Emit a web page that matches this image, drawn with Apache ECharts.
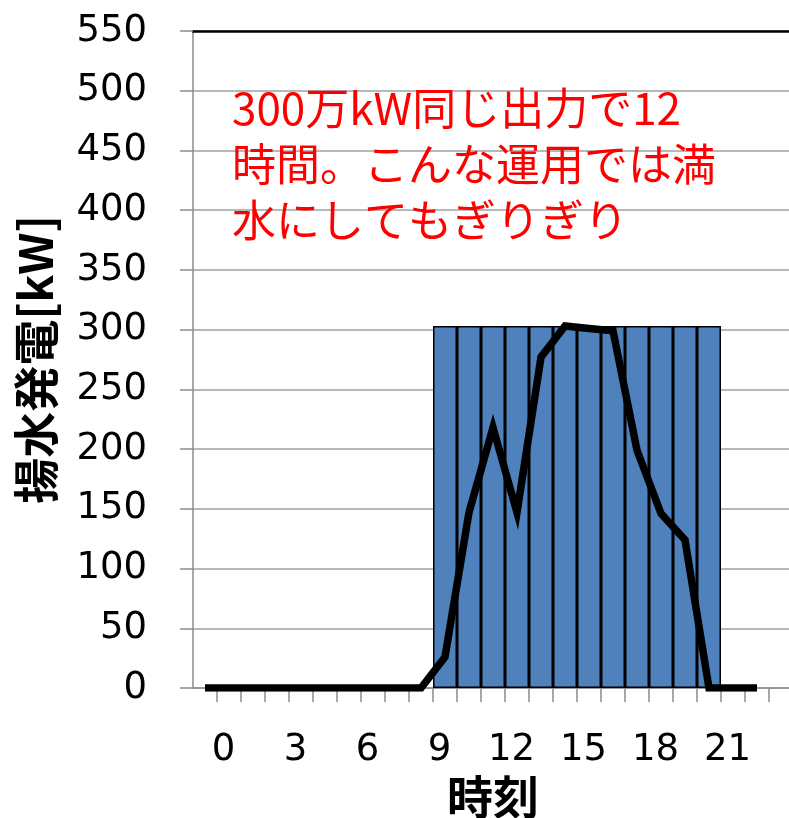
<!DOCTYPE html>
<html>
<head>
<meta charset="utf-8">
<script src="https://cdn.jsdelivr.net/npm/echarts@6/dist/echarts.min.js"></script>
<style>
  html, body { margin: 0; padding: 0; background: #fff; }
  #chart { width: 789px; height: 818px; }
</style>
</head>
<body>
<div id="chart"></div>
<script>
// Hour categories (the leading slot is an unlabeled lead-in before 0時)
const hours = ['', '0', '1', '2', '3', '4', '5', '6', '7', '8', '9', '10', '11',
  '12', '13', '14', '15', '16', '17', '18', '19', '20', '21', '22', '23'];

// Flat 12-hour pumped-storage output block [kW]
const flatOutput = ['-', '-', '-', '-', '-', '-', '-', '-', '-', '-',
  303, 303, 303, 303, 303, 303, 303, 303, 303, 303, 303, 303,
  '-', '-', '-'];

// Actual pumped-storage generation profile [kW]
const actualOutput = [0, 0, 0, 0, 0, 0, 0, 0, 0, 0,
  26, 147, 218, 147, 277, 303, 301, 299, 199, 146, 124, 0,
  0, 0, null];

const yTicks = { min: 0, max: 550, step: 50 };

const FONT = '"Noto Sans CJK JP", "Noto Sans", sans-serif';
const NUM_FONT = '"DejaVu Sans", sans-serif';
const chart = echarts.init(document.getElementById('chart'), null, { renderer: 'canvas' });

chart.setOption({
  animation: false,
  backgroundColor: '#ffffff',
  grid: {
    left: 193, top: 31, width: 600, bottom: 130,
    containLabel: false,
    outerBoundsMode: 'none'
  },
  xAxis: [{
    type: 'category',
    data: hours,
    boundaryGap: true,
    name: '時刻',
    nameLocation: 'middle',
    nameGap: 86,
    nameTextStyle: { fontFamily: FONT, fontSize: 46, fontWeight: 'bold', color: '#000' },
    axisLine: { show: true, lineStyle: { color: '#8c8c8c', width: 1.5 } },
    axisTick: {
      show: true, length: 14, inside: false,
      interval: (i) => i > 0,
      lineStyle: { color: '#8c8c8c', width: 1.5 }
    },
    axisLabel: {
      interval: (i) => i % 3 === 1,
      margin: 44,
      fontFamily: NUM_FONT, fontSize: 37, color: '#000',
      padding: [0, 11, 0, 0]
    },
    splitLine: { show: false }
  }, {
    // top border of the plot area
    type: 'category',
    position: 'top',
    data: hours,
    axisLine: { show: true, lineStyle: { color: '#000', width: 2.5 } },
    axisTick: { show: false },
    axisLabel: { show: false },
    splitLine: { show: false }
  }],
  yAxis: {
    type: 'value',
    min: yTicks.min,
    max: yTicks.max,
    interval: yTicks.step,
    name: '揚水発電[kW]',
    nameLocation: 'middle',
    nameGap: 134,
    nameRotate: 90,
    nameTextStyle: { fontFamily: FONT, fontSize: 46, fontWeight: 'bold', color: '#000' },
    axisLine: { show: true, lineStyle: { color: '#8c8c8c', width: 1.5 } },
    axisTick: { show: true, length: 13, inside: false, lineStyle: { color: '#8c8c8c', width: 1.5 } },
    axisLabel: { margin: 46, fontFamily: NUM_FONT, fontSize: 37, color: '#000' },
    splitLine: { show: true, lineStyle: { color: '#a0a0a0', width: 1.5 } }
  },
  graphic: [{
    type: 'text',
    left: 232,
    top: 80,
    z: 100,
    style: {
      text: '300万kW同じ出力で12\n時間。こんな運用では満\n水にしてもぎりぎり',
      font: '44px "Noto Sans CJK JP", sans-serif',
      fill: '#ff0000',
      lineHeight: 56
    }
  }],
  series: [{
    name: '一定出力',
    type: 'bar',
    data: flatOutput,
    barCategoryGap: '0%',
    itemStyle: { color: '#4f81bd', borderColor: '#000', borderWidth: 1.5 },
    z: 2
  }, {
    name: '揚水発電',
    type: 'line',
    data: actualOutput,
    showSymbol: false,
    symbol: 'none',
    lineStyle: { color: '#000', width: 7.5, join: 'miter' },
    z: 3
  }]
});
</script>
</body>
</html>
